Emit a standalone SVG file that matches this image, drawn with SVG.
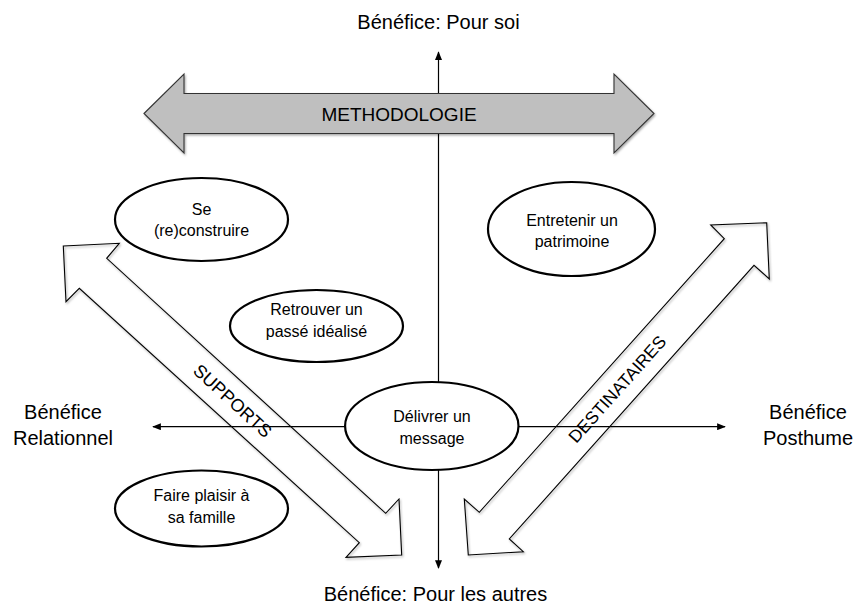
<svg xmlns="http://www.w3.org/2000/svg" width="856" height="614" viewBox="0 0 856 614">
<style>
text{font-family:"Liberation Sans",Arial,sans-serif;fill:#000}
.lbl{font-size:20px;text-anchor:middle}
.nt{font-size:16px;text-anchor:middle}
.big{font-size:18px;text-anchor:middle}
.axis{stroke:#000;stroke-width:1.2;fill:none}
.node{fill:#fff;stroke:#000;stroke-width:2.2}
.outl{fill:none;stroke:#000;stroke-width:1.1;stroke-linejoin:miter}
</style>
<defs>
<marker id="ah" viewBox="0 0 10 8" refX="9" refY="4" markerWidth="9" markerHeight="7" markerUnits="userSpaceOnUse" orient="auto">
<path d="M0,0 L10,4 L0,8 Z" fill="#000"/>
</marker>
<filter id="sh" x="-10%" y="-10%" width="120%" height="130%">
<feDropShadow dx="1" dy="1.5" stdDeviation="1.2" flood-color="#000" flood-opacity="0.35"/>
</filter>
</defs>
<g id="connectors">
<line class="axis" x1="438.5" y1="300" x2="438.5" y2="52" marker-end="url(#ah)"/>
<line class="axis" x1="438.5" y1="300" x2="438.5" y2="568" marker-end="url(#ah)"/>
<line class="axis" x1="438" y1="426.7" x2="153" y2="426.7" marker-end="url(#ah)"/>
<line class="axis" x1="438" y1="426.7" x2="725" y2="426.7" marker-end="url(#ah)"/>
</g>
<g id="methodologie">
<polygon points="144,113.5 184,74 184,93.5 614,93.5 614,74 654,113.5 614,153 614,133.5 184,133.5 184,153" fill="#bfbfbf" stroke="#333" stroke-width="1.1" filter="url(#sh)"/>
<text class="big" x="399" y="120.5" style="font-size:19px">METHODOLOGIE</text>
</g>
<g id="supports">
<polygon class="outl" points="63.3,246 119.3,243.3 106.7,258.3 385.7,513.3 399,499 401.7,555 346,557.3 359.3,542.7 79.3,288.3 66,301.7" filter="url(#sh)"/>
<text class="big" transform="translate(232.8,400.7) rotate(42.35)" x="0" y="6.5">SUPPORTS</text>
</g>
<g id="destinataires">
<polygon class="outl" points="766.7,222.7 769.3,279 754,265.3 509.3,539 523.3,551.7 468.3,555 464.3,499 479.3,512.3 724.3,238.7 710.7,225" filter="url(#sh)"/>
<text class="big" transform="translate(617,389) rotate(-48.2)" x="0" y="6.3" style="font-size:17.5px">DESTINATAIRES</text>
</g>
<g id="n-reconstruire">
<ellipse class="node" cx="201.5" cy="219.5" rx="86.5" ry="41.5"/>
<text class="nt" x="201.5" y="214.5">Se</text>
<text class="nt" x="201.5" y="236">(re)construire</text>
</g>
<g id="n-passe">
<ellipse class="node" cx="316.5" cy="326" rx="86.5" ry="36"/>
<text class="nt" x="316.5" y="314.5">Retrouver un</text>
<text class="nt" x="316.5" y="336.5">passé idéalisé</text>
</g>
<g id="n-famille">
<ellipse class="node" cx="201.5" cy="508.5" rx="86.5" ry="38"/>
<text class="nt" x="201.5" y="500.5">Faire plaisir à</text>
<text class="nt" x="201.5" y="522.5">sa famille</text>
</g>
<g id="n-message">
<ellipse class="node" cx="431.8" cy="426" rx="86.7" ry="44"/>
<text class="nt" x="432" y="422">Délivrer un</text>
<text class="nt" x="432" y="444">message</text>
</g>
<g id="n-patrimoine">
<ellipse class="node" cx="571.5" cy="229" rx="83.5" ry="47"/>
<text class="nt" x="572" y="225.5">Entretenir un</text>
<text class="nt" x="572" y="246.5">patrimoine</text>
</g>
<g id="labels">
<text class="lbl" x="438.5" y="29">Bénéfice: Pour soi</text>
<text class="lbl" x="435.5" y="601">Bénéfice: Pour les autres</text>
<text class="lbl" x="63" y="419">Bénéfice</text>
<text class="lbl" x="63" y="445">Relationnel</text>
<text class="lbl" x="808" y="419">Bénéfice</text>
<text class="lbl" x="808" y="445">Posthume</text>
</g>
</svg>
